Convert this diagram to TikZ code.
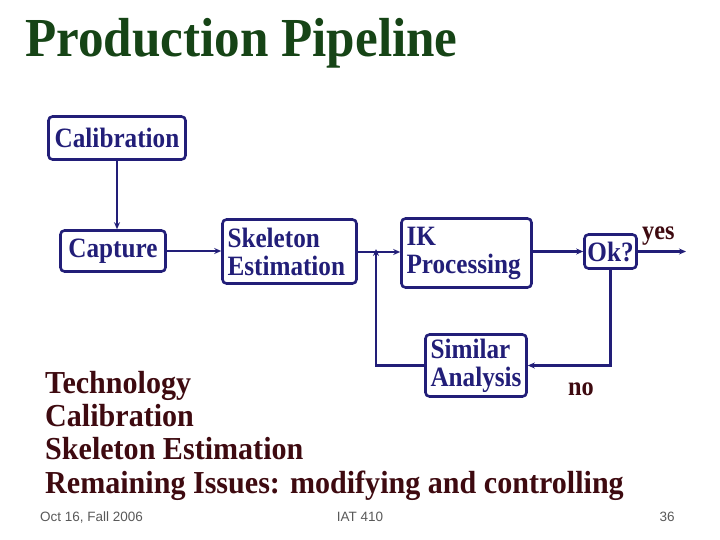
\documentclass[tikz,border=0pt]{standalone}
\usepackage{fontspec}
\usepackage{tikz}
\usetikzlibrary{arrows.meta}
\setmainfont{Liberation Serif}
\newfontfamily\slidefont[FakeStretch=0.9]{Liberation Serif}
\newfontfamily\titlefont[FakeStretch=0.93]{Liberation Serif}
\newfontfamily\listfont[FakeStretch=0.94]{Liberation Serif}
\newfontfamily\footfont{Liberation Sans}
\definecolor{boxblue}{RGB}{34,30,120}
\definecolor{titlegreen}{RGB}{22,68,22}
\definecolor{listred}{RGB}{62,10,16}
\tikzset{
	stage/.style={draw=boxblue, line width=2.6pt, rounded corners=4pt, text=boxblue,
		font=\slidefont\bfseries\fontsize{28}{28}\selectfont, inner xsep=5pt, inner ysep=2pt},
	twoline/.style={stage, align=left, text width=#1},
	flow/.style={draw=boxblue, line width=2.2pt, -{Stealth[length=7pt,width=6pt]}},
	answer/.style={anchor=base west, inner sep=0, text=listred,
		font=\slidefont\bfseries\fontsize{27}{27}\selectfont},
	foot/.style={anchor=base, inner sep=0, text=black!65, font=\footfont\fontsize{13.5}{14}\selectfont},
}

\begin{document}
\begin{tikzpicture}[x=1pt,y=-1pt]
		%%%%% START %%%%%
		\useasboundingbox (0,0) rectangle (720,540);
		
		\node[anchor=base west, inner sep=0, text=titlegreen,
			font=\titlefont\bfseries\fontsize{55}{55}\selectfont] (title) at (25,57) {Production Pipeline};
		
		\node[stage, minimum width=137, minimum height=43] (calib) at (117,138) {Calibration};
		\node[stage, minimum width=105, minimum height=41] (capture) at (113,251) {Capture};
		\node[twoline=124, minimum height=64] (skel) at (289.5,251.5) {Skeleton\\Estimation};
		\node[twoline=120, minimum height=69] (ik) at (466.5,253) {IK\\Processing};
		\node[stage, minimum width=52, minimum height=34, inner xsep=2pt] (ok) at (610.5,251.5) {Ok?};
		\node[twoline=91, minimum height=62] (sim) at (476,365.5) {Similar\\Analysis};
		
		\coordinate (yesend) at (686,251.5);
		\coordinate (join) at (376,252);
		
		\draw[flow] (calib.south) -- (calib.south |- capture.north);
		\draw[flow] (capture.east) -- (capture.east -| skel.west);
		\draw[flow] (skel.east |- join) -- (join -| ik.west);
		\draw[flow] (ok.west -| ik.east) -- (ok.west);
		\draw[flow] (ok.east) -- (yesend);
		\draw[flow] (ok.south) |- (sim.east);
		\draw[flow] (sim.west) -| ([yshift=3pt]join);
		
		\node[answer] (yes) at (642,240) {yes};
		\node[answer] (no) at (568,395) {no};
		
		\foreach \topic [count=\i] in {Technology, Calibration, Skeleton Estimation,
			Remaining Issues: modifying and controlling}
			\node[anchor=base west, inner sep=0, text=listred,
				font=\listfont\bfseries\fontsize{32}{32}\selectfont] (topic\i) at (45,{393+33.4*(\i-1)}) {\topic};
		
		\node[foot, anchor=base west] (date) at (40,521) {Oct 16, Fall 2006};
		\node[foot] (course) at (360,521) {IAT 410};
		\node[foot] (page) at (667,521) {36};
		
		%%%%% END %%%%%
	\end{tikzpicture}
\end{document}
